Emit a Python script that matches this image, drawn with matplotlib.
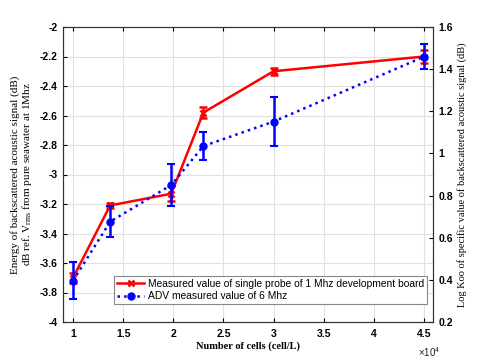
import matplotlib
matplotlib.use("Agg")
import matplotlib.pyplot as plt
from matplotlib.lines import Line2D

# data (x in units of 1e4 cells/L)
cells = [1.0, 1.37, 1.98, 2.30, 3.0, 4.5]
probe_db = [-3.70, -3.21, -3.13, -2.58, -2.30, -2.20]
probe_err = [0.035, 0.02, 0.05, 0.035, 0.025, 0.045]
adv_log = [0.396, 0.676, 0.85, 1.035, 1.151, 1.459]
adv_err = [0.087, 0.074, 0.10, 0.065, 0.115, 0.06]

xticks = [1, 1.5, 2, 2.5, 3, 3.5, 4, 4.5]
left_ticks = [-4, -3.8, -3.6, -3.4, -3.2, -3, -2.8, -2.6, -2.4, -2.2, -2]
right_ticks = [0.2, 0.4, 0.6, 0.8, 1, 1.2, 1.4, 1.6]

label1 = "Measured value of single probe of 1 Mhz development board"
label2 = "ADV measured value of 6 Mhz"

fig = plt.figure(figsize=(4.8, 3.6), dpi=100)
ax = fig.add_axes([63/480, 38/360, 370/480, 295/360])
ax2 = ax.twinx()

tickfont = dict(family="Liberation Sans", weight="bold", size=7.5)

ax.errorbar(cells, probe_db, yerr=probe_err, color="#ff0000", lw=1.8,
            marker="x", ms=5, mew=1.8, capsize=3, elinewidth=1.8, capthick=1.5, zorder=3)
ax2.errorbar(cells, adv_log, yerr=adv_err, color="#0000ff", lw=1.8, ls=":",
             marker="o", ms=5, capsize=3, elinewidth=1.8, capthick=1.5, zorder=3)

ax.set_xlim(0.9, 4.59)
ax.set_ylim(-4, -2)
ax2.set_ylim(0.2, 1.6)
ax.set_xticks(xticks)
ax.set_xticklabels([("%g" % t) for t in xticks], fontdict=tickfont)
ax.set_yticks(left_ticks)
ax.set_yticklabels([("%g" % t) for t in left_ticks], fontdict=tickfont)
ax2.set_yticks(right_ticks)
ax2.set_yticklabels([("%g" % t) for t in right_ticks], fontdict=tickfont)

ax.grid(True, color="#e0e0e0", lw=0.8)
ax.set_axisbelow(True)
ax.tick_params(direction="in", top=True, length=3, width=0.8, pad=4)
ax.tick_params(axis="x", pad=5)
ax2.tick_params(direction="in", length=3, width=0.8, pad=4)
for a in (ax, ax2):
    for s in a.spines.values():
        s.set_color("#333333")
        s.set_linewidth(0.8)

serif = dict(family="Liberation Serif", size=8)
ax.set_xlabel("Number of cells (cell/L)", fontdict=dict(family="Liberation Serif", size=7.5, weight="bold"), labelpad=2)
ax.set_ylabel("Energy of backscattered acoustic signal (dB)\ndB ref. V$_{\\mathregular{rms}}$ from pure seawater at 1Mhz",
              fontdict=serif, labelpad=4, linespacing=0.95)
ax2.set_ylabel("Log Koo of specific value of backscattered acoustic signal (dB)",
               fontdict=dict(family="Liberation Serif", size=7.5), labelpad=3)

fig.text(418/480, 1 - 352/360, "\u00d710$^{\\mathregular{4}}$", family="Liberation Sans", size=7,
         ha="left", va="center", color="#222222")

h1 = Line2D([], [], color="#ff0000", lw=1.8, marker="x", ms=5, mew=1.8)
h2 = Line2D([], [], color="#0000ff", lw=1.8, ls=":", marker="o", ms=5)
leg = ax.legend(handles=[h1, h2], labels=[label1, label2], loc="lower right",
                bbox_to_anchor=(0.985, 0.06),
                prop=dict(family="Liberation Sans", size=7.4), frameon=True, fancybox=False,
                framealpha=1, edgecolor="#888888", borderpad=0.3, labelspacing=0.25,
                handlelength=2.6, handletextpad=0.4, borderaxespad=0)
leg.get_frame().set_linewidth(0.8)
leg.set_zorder(5)

fig.savefig("out.png", dpi=100)
